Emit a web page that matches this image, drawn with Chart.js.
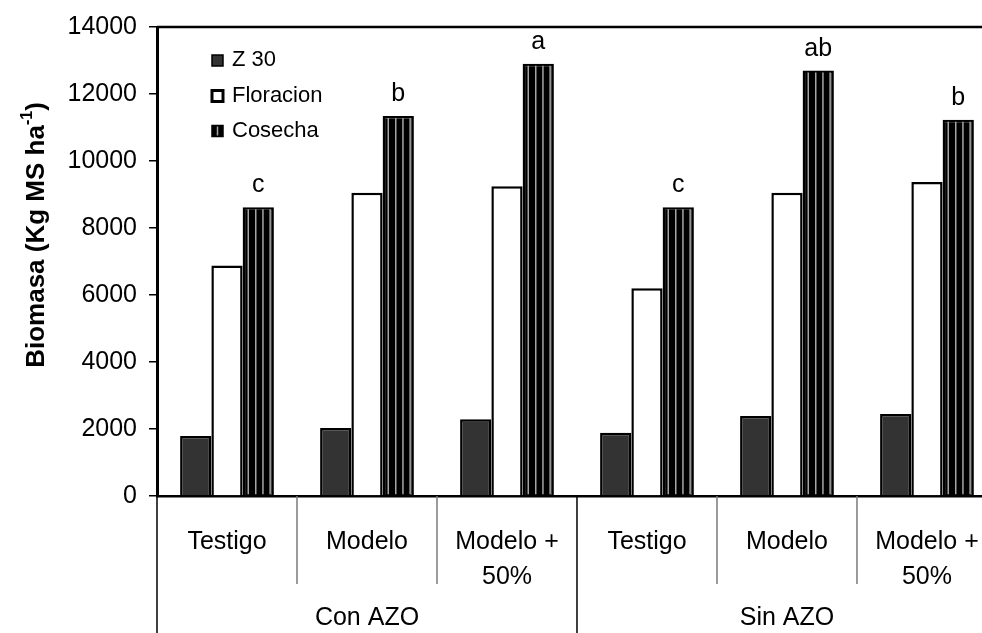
<!DOCTYPE html>
<html>
<head>
<meta charset="utf-8">
<script src="https://cdn.jsdelivr.net/npm/chart.js@4.4.1/dist/chart.umd.min.js"></script>
<style>
  html, body { margin: 0; padding: 0; background: #fff; overflow: hidden; }
  #wrap { width: 1000px; height: 633px; }
</style>
</head>
<body>
<div id="wrap"><canvas id="biomasaChart" width="1000" height="633"></canvas></div>
<script>
// treatments (inner categories) and their outer group
const tratamientos = [["Testigo"], ["Modelo"], ["Modelo +", "50%"], ["Testigo"], ["Modelo"], ["Modelo +", "50%"]];
const grupos = ["Con AZO", "Sin AZO"];

// biomass values (Kg MS/ha)
const z30 = [1790, 2030, 2290, 1890, 2390, 2450];
const floracion = [6880, 9050, 9250, 6200, 9050, 9370];
const cosecha = [8620, 11340, 12900, 8620, 12700, 11230];

// significance letters over the harvest bars
const letras = ["c", "b", "a", "c", "ab", "b"];

const yTicks = [0, 2000, 4000, 6000, 8000, 10000, 12000, 14000];

const FONT = "'Liberation Sans', Arial, sans-serif";

// gray stripes on the Cosecha bars
const stripesPlugin = {
  id: "stripes",
  afterDatasetsDraw(chart) {
    const ctx = chart.ctx;
    const meta = chart.getDatasetMeta(2);
    ctx.save();
    ctx.strokeStyle = "#a6a6a6";
    ctx.lineWidth = 1.5;
    meta.data.forEach((bar) => {
      const left = bar.x - bar.width / 2;
      [0.18, 0.42, 0.65, 0.88].forEach((f) => {
        const x = left + bar.width * f;
        ctx.beginPath();
        ctx.moveTo(x, bar.y + 2);
        ctx.lineTo(x, bar.base - 1);
        ctx.stroke();
      });
    });
    ctx.restore();
  },
};

// letters, frame line, legend, axis title, grouped category axis
const decorPlugin = {
  id: "decor",
  afterDraw(chart) {
    const ctx = chart.ctx;
    const area = chart.chartArea;
    const xs = chart.scales.x;

    ctx.save();
    // top frame
    ctx.strokeStyle = "#000";
    ctx.lineWidth = 2.5;
    ctx.beginPath();
    ctx.moveTo(area.left, area.top);
    ctx.lineTo(area.right + 5, area.top);
    ctx.stroke();

    // letters
    ctx.fillStyle = "#000";
    ctx.font = "25px " + FONT;
    ctx.textAlign = "center";
    ctx.textBaseline = "alphabetic";
    chart.getDatasetMeta(2).data.forEach((bar, i) => {
      ctx.fillText(letras[i], bar.x, bar.y - 15);
    });

    // separators under the x axis
    const n = tratamientos.length;
    const step = (xs.getPixelForValue(1) - xs.getPixelForValue(0));
    for (let i = 0; i <= n; i++) {
      const x = xs.getPixelForValue(0) - step / 2 + i * step;
      const long = i % 3 === 0;
      ctx.strokeStyle = long ? "#000" : "#7a7a7a";
      ctx.lineWidth = 1.5;
      ctx.beginPath();
      ctx.moveTo(x, area.bottom);
      ctx.lineTo(x, long ? chart.height : 584);
      ctx.stroke();
    }

    // outer group labels
    ctx.font = "25px " + FONT;
    ctx.textBaseline = "middle";
    grupos.forEach((g, k) => {
      ctx.fillText(g, xs.getPixelForValue(k * 3 + 1), 618);
    });

    // legend
    const rows = [60, 95.5, 130.5];
    ctx.font = "22px " + FONT;
    ctx.textAlign = "left";
    chart.data.datasets.forEach((ds, i) => {
      const cy = rows[i];
      const bx = 212, by = cy - 5, s = 11;
      ctx.fillStyle = ds.backgroundColor;
      ctx.fillRect(bx, by, s, s);
      ctx.strokeStyle = "#000";
      ctx.lineWidth = i === 1 ? 3 : 1.5;
      ctx.strokeRect(bx, by, s, s);
      if (i === 2) {
        ctx.strokeStyle = "#a6a6a6";
        ctx.lineWidth = 1.5;
        ctx.beginPath();
        ctx.moveTo(bx + s / 2, by + 1);
        ctx.lineTo(bx + s / 2, by + s - 1);
        ctx.stroke();
      }
      ctx.fillStyle = "#000";
      ctx.fillText(ds.label, 232, cy);
    });

    // y axis title with superscript
    ctx.translate(37, 235);
    ctx.rotate(-Math.PI / 2);
    const big = "bold 26px " + FONT;
    const small = "bold 16px " + FONT;
    const p1 = "Biomasa (Kg MS ha";
    const sup = "-1";
    const p3 = ")";
    ctx.font = big;
    const w1 = ctx.measureText(p1).width;
    const w3 = ctx.measureText(p3).width;
    ctx.font = small;
    const w2 = ctx.measureText(sup).width;
    let x0 = -(w1 + w2 + w3) / 2;
    ctx.textAlign = "left";
    ctx.textBaseline = "middle";
    ctx.font = big;
    ctx.fillText(p1, x0, 0);
    ctx.font = small;
    ctx.fillText(sup, x0 + w1, -9);
    ctx.font = big;
    ctx.fillText(p3, x0 + w1 + w2, 0);
    ctx.restore();
  },
};

const ctx = document.getElementById("biomasaChart");

new Chart(ctx, {
  type: "bar",
  data: {
    labels: tratamientos,
    datasets: [
      { label: "Z 30", data: z30, backgroundColor: "#333333" },
      { label: "Floracion", data: floracion, backgroundColor: "#ffffff" },
      { label: "Cosecha", data: cosecha, backgroundColor: "#000000" },
    ],
  },
  options: {
    responsive: false,
    animation: false,
    devicePixelRatio: 1,
    datasets: {
      bar: {
        categoryPercentage: 0.67,
        barPercentage: 1,
        borderColor: "#000",
        borderWidth: 2.5,
      },
    },
    layout: { padding: { top: 22, right: 3, left: 0, bottom: 0 } },
    plugins: {
      legend: { display: false },
      tooltip: { enabled: false },
    },
    scales: {
      x: {
        grid: { display: false },
        border: { display: true, color: "#000", width: 2.5 },
        ticks: {
          color: "#000",
          font: { family: FONT, size: 25, lineHeight: 1.4 },
          padding: 21,
          maxRotation: 0,
          autoSkip: false,
        },
        afterFit(scale) {
          scale.height = 137;
        },
      },
      y: {
        min: 0,
        max: 14000,
        afterBuildTicks(scale) {
          scale.ticks = yTicks.map((v) => ({ value: v }));
        },
        grid: {
          drawOnChartArea: false,
          drawTicks: true,
          tickLength: 8,
          color: "#000",
          lineWidth: 1.5,
        },
        border: { display: true, color: "#000", width: 3 },
        ticks: {
          color: "#000",
          font: { family: FONT, size: 25 },
          padding: 12,
          callback: (v) => String(v),
        },
        afterFit(scale) {
          scale.width = 157;
        },
      },
    },
  },
  plugins: [stripesPlugin, decorPlugin],
});
</script>
</body>
</html>
